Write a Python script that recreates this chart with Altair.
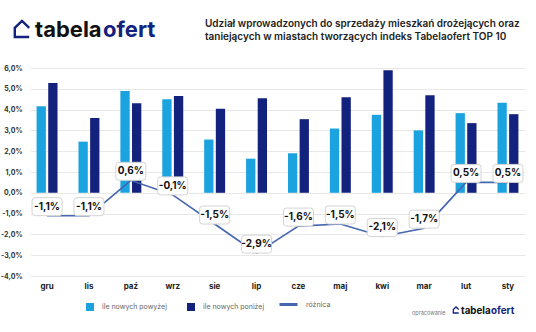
import altair as alt
import pandas as pd

months = ["gru", "lis", "paź", "wrz", "sie", "lip", "cze", "maj", "kwi", "mar", "lut", "sty"]
above = [4.16, 2.46, 4.89, 4.50, 2.56, 1.64, 1.90, 3.09, 3.75, 3.00, 3.83, 4.33]
below = [5.28, 3.60, 4.31, 4.65, 4.04, 4.54, 3.54, 4.59, 5.89, 4.69, 3.35, 3.78]
diff = [-1.1, -1.1, 0.6, -0.1, -1.5, -2.9, -1.6, -1.5, -2.1, -1.7, 0.5, 0.5]
series_names = ["ile nowych powyżej", "ile nowych poniżej"]
line_name = "różnica"
title_lines = [
    "Udział wprowadzonych do sprzedaży mieszkań drożejących oraz",
    "taniejących w miastach tworzących indeks Tabelaofert TOP 10",
]
y_ticks = [-4, -3, -2, -1, 0, 1, 2, 3, 4, 5, 6]

LIGHT = "#1ba3e0"
DARK = "#13237d"
LINE = "#4566b0"
FONT = "Inter"

bars_df = pd.DataFrame(
    [{"month": m, "series": series_names[0], "value": a} for m, a in zip(months, above)]
    + [{"month": m, "series": series_names[1], "value": b} for m, b in zip(months, below)]
)
line_df = pd.DataFrame({
    "month": months,
    "diff": diff,
    "name": [line_name] * len(months),
    "label": [f"{d:.1f}".replace(".", ",") + "%" for d in diff],
})

x_axis = alt.Axis(title=None, labelAngle=0, domain=False, ticks=False, grid=False,
                  labelFontWeight="bold", labelFontSize=8, labelPadding=6,
                  labelColor="#222", labelFont=FONT)
x_scale = alt.Scale(paddingInner=0.5, paddingOuter=0.157)
y_axis = alt.Axis(
    title=None, values=y_ticks, domain=False, ticks=False, labelOverlap=False,
    labelExpr="replace(replace(format(datum.value, '.1f'), '.', ','), '−', '-') + '%'",
    labelFontSize=7, labelFontWeight="bold", labelPadding=8, labelColor="#333",
    labelFont=FONT, gridColor="#e8e8e8",
)
y_scale = alt.Scale(domain=[-4, 6], nice=False)


def X():
    return alt.X("month:N", sort=months, scale=x_scale, axis=x_axis)


def Y(field):
    return alt.Y(field, scale=y_scale, axis=y_axis)


bars = alt.Chart(bars_df).mark_bar().encode(
    x=X(),
    xOffset=alt.XOffset("series:N", sort=series_names, scale=alt.Scale(paddingInner=0.2)),
    y=Y("value:Q"),
    fill=alt.Fill(
        "series:N", sort=series_names,
        scale=alt.Scale(domain=series_names, range=[LIGHT, DARK]),
        legend=alt.Legend(orient="none", legendX=56, legendY=235, direction="horizontal",
                          title=None, symbolType="square", symbolSize=64,
                          symbolStrokeWidth=0, labelFontSize=7, labelColor="#666",
                          labelFont=FONT, labelOffset=8, columnPadding=20),
    ),
)

line = alt.Chart(line_df).mark_line(strokeWidth=1.6).encode(
    x=X(),
    y=Y("diff:Q"),
    stroke=alt.Stroke(
        "name:N",
        scale=alt.Scale(domain=[line_name], range=[LINE]),
        legend=alt.Legend(orient="none", legendX=248, legendY=226, direction="horizontal",
                          title=None, symbolType="stroke", symbolSize=324,
                          symbolStrokeWidth=3, labelFontSize=7, labelColor="#666",
                          labelFont=FONT, labelOffset=7),
    ),
)

BOX = ("M-1.2,-0.9 H1.2 Q1.5,-0.9 1.5,-0.6 V0.6 Q1.5,0.9 1.2,0.9 H-1.2 "
       "Q-1.5,0.9 -1.5,0.6 V-0.6 Q-1.5,-0.9 -1.2,-0.9 Z")
boxes = alt.Chart(line_df).mark_point(
    shape=BOX, size=400, filled=True, fill="white", stroke="#d4d4d4",
    strokeWidth=1, opacity=1, yOffset=-9,
).encode(x=X(), y=Y("diff:Q"))

labels = alt.Chart(line_df).mark_text(
    font=FONT, fontWeight="bold", fontSize=10, color="#111", yOffset=-9,
).encode(x=X(), y=Y("diff:Q"), text="label:N")

one = alt.Data(values=[{}])
HOUSE = "M0.9,-0.15 L0,-1 L-0.9,-0.15 V1 H0.9"

title_1 = alt.Chart(one).mark_text(
    text=title_lines[0], font=FONT, fontWeight=600, fontSize=10, color="#222",
    align="left", baseline="middle",
).encode(x=alt.value(175), y=alt.value(-44))
title_2 = alt.Chart(one).mark_text(
    text=title_lines[1], font=FONT, fontWeight=600, fontSize=10, color="#222",
    align="left", baseline="middle",
).encode(x=alt.value(175), y=alt.value(-31))

logo_house = alt.Chart(one).mark_point(
    shape=HOUSE, size=256, filled=False, stroke=DARK, strokeWidth=2.4, opacity=1,
).encode(x=alt.value(-8), y=alt.value(-39))
logo_a = alt.Chart(one).mark_text(
    text="tabela", font=FONT, fontWeight="bold", fontSize=22, color="#111",
    align="left", baseline="alphabetic",
).encode(x=alt.value(5), y=alt.value(-31))
logo_b = alt.Chart(one).mark_text(
    text="ofert", font=FONT, fontWeight="bold", fontSize=22, color=DARK,
    align="left", baseline="alphabetic",
).encode(x=alt.value(73), y=alt.value(-31))

small_house = alt.Chart(one).mark_point(
    shape=HOUSE, size=36, filled=False, stroke=DARK, strokeWidth=1.3, opacity=1,
).encode(x=alt.value(426), y=alt.value(242))
small_note = alt.Chart(one).mark_text(
    text="opracowanie", font=FONT, fontSize=5.5, color="#777", align="left",
).encode(x=alt.value(382), y=alt.value(245))
small_a = alt.Chart(one).mark_text(
    text="tabela", font=FONT, fontWeight="bold", fontSize=9.8, color="#111",
    align="left", baseline="alphabetic",
).encode(x=alt.value(431), y=alt.value(246))
small_b = alt.Chart(one).mark_text(
    text="ofert", font=FONT, fontWeight="bold", fontSize=9.8, color=DARK,
    align="left", baseline="alphabetic",
).encode(x=alt.value(461), y=alt.value(246))

chart = alt.layer(
    bars, line, boxes, labels, title_1, title_2,
    logo_house, logo_a, logo_b, small_house, small_note, small_a, small_b,
).resolve_scale(fill="independent", stroke="independent").properties(
    width=495, height=208,
    autosize=alt.AutoSizeParams(type="none"),
    padding={"left": 30, "top": 68, "right": 11, "bottom": 56},
    background="white",
).configure_view(stroke=None)

chart.save("out.html", embed_options={"renderer": "svg", "actions": False})
